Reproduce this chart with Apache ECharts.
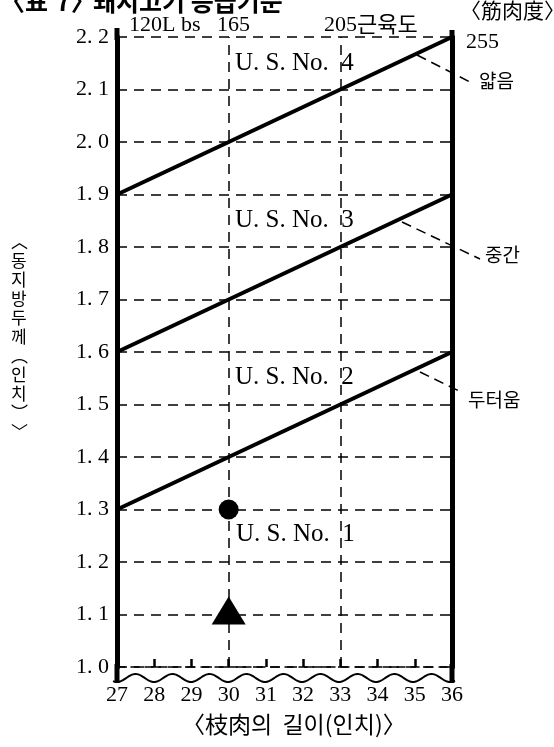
<!DOCTYPE html>
<html>
<head>
<meta charset="utf-8">
<script src="https://cdn.jsdelivr.net/npm/echarts@6/dist/echarts.min.js"></script>
<style>
  html, body { margin: 0; padding: 0; background: #fff; }
  #chart { width: 554px; height: 747px; }
</style>
</head>
<body>
<div id="chart"></div>
<script>
// 지육 길이(인치) 축
const lengthMin = 27;
const lengthMax = 36;
// 등지방 두께(인치) 축
const fatMin = 1.0;
const fatMax = 2.2;
// 등급 경계선: 27인치일 때와 36인치일 때의 두께
const boundaryNames = ['U. S. No. 4', 'U. S. No. 3', 'U. S. No. 2'];
const boundaryAt27 = [1.9, 1.6, 1.3];
const boundaryAt36 = [2.2, 1.9, 1.6];
// 세로 보조선
const guideLengths = [30, 33];
// 표본 점 (길이, 두께)
const circlePoint = [30, 1.3];
const trianglePoint = [30, 1.1];

const black = '#000';
const serif = '"Liberation Serif", "DejaVu Serif", serif';
const kr = '"Noto Sans CJK KR", sans-serif';

const chart = echarts.init(document.getElementById('chart'));

let seriesData = [];
// 세로 점선
seriesData.push({
  type: 'line',
  data: [],
  z: 1,
  markLine: {
    silent: true,
    symbol: 'none',
    label: { show: false },
    lineStyle: { color: black, width: 1.5, type: [10, 7] },
    data: guideLengths.map(v => ({ xAxis: v }))
  }
});
boundaryNames.forEach((name, i) => {
  seriesData.push({
    name: name,
    type: 'line',
    data: [[lengthMin, boundaryAt27[i]], [lengthMax, boundaryAt36[i]]],
    symbol: 'none',
    silent: true,
    lineStyle: { color: black, width: 4 },
    z: 5
  });
});
seriesData.push({
  type: 'scatter',
  data: [circlePoint],
  symbol: 'circle',
  symbolSize: 20,
  itemStyle: { color: black, opacity: 1 },
  z: 6
});
seriesData.push({
  type: 'scatter',
  data: [trianglePoint],
  symbol: 'triangle',
  symbolSize: [34, 28],
  symbolOffset: [0, -4],
  itemStyle: { color: black, opacity: 1 },
  z: 6
});

// 물결선 (장식)
let wave = [];
for (let x = 113; x <= 456; x += 2) {
  wave.push([x, 678 + 4 * Math.sin((x - 117) / 37 * 2 * Math.PI + Math.PI / 2)]);
}

const option = {
  animation: false,
  backgroundColor: '#fff',
  grid: { left: 117, right: 102, top: 37, bottom: 80 },
  xAxis: {
    type: 'value',
    min: lengthMin,
    max: lengthMax,
    interval: 1,
    axisLine: { onZero: false, lineStyle: { color: black, width: 1.5, type: [8, 6] } },
    axisTick: { inside: true, length: 8, lineStyle: { color: black, width: 2.5 } },
    splitLine: { show: false },
    axisLabel: { color: black, fontSize: 22, fontFamily: serif, margin: 17 }
  },
  yAxis: [{
    type: 'value',
    min: fatMin,
    max: fatMax,
    interval: 0.1,
    axisLine: { show: true, lineStyle: { color: black, width: 5 } },
    axisTick: { show: false },
    splitLine: { lineStyle: { color: black, width: 1.5, type: [10, 7] } },
    axisLabel: {
      color: black, fontSize: 22, fontFamily: serif, margin: 8,
      formatter: v => v.toFixed(1).replace('.', '. ')
    }
  }, {
    type: 'value',
    position: 'right',
    min: fatMin,
    max: fatMax,
    interval: 0.1,
    axisLine: { show: true, lineStyle: { color: black, width: 5 } },
    axisTick: { show: false },
    splitLine: { show: false },
    axisLabel: { show: false }
  }],
  graphic: [
    // 제목 (위쪽이 잘림)
    { type: 'text', left: 0, top: -11, style: { text: '〈표', font: 'bold 25px ' + kr, fill: black } },
    { type: 'text', left: 56, top: -11, style: { text: '7〉', font: 'bold 25px ' + kr, fill: black } },
    { type: 'text', left: 93, top: -11, style: { text: '돼지고기 등급기준', font: 'bold 25px ' + kr, fill: black } },
    // 위쪽 체중 눈금
    { type: 'text', left: 129, top: 14, style: { text: '120L bs', font: '22px ' + serif, fill: black } },
    { type: 'text', left: 217, top: 14, style: { text: '165', font: '22px ' + serif, fill: black } },
    { type: 'text', left: 324, top: 14, style: { text: '205', font: '22px ' + serif, fill: black } },
    { type: 'text', left: 357, top: 13, style: { text: '근육도', font: '22px ' + kr, fill: black } },
    { type: 'text', left: 460, top: 0, style: { text: '〈筋肉度〉', font: '21px ' + kr, fill: black } },
    { type: 'text', left: 466, top: 31, style: { text: '255', font: '22px ' + serif, fill: black } },
    // 등급 이름
    { type: 'text', left: 235, top: 51, style: { text: 'U. S. No.  4', font: '25px ' + serif, fill: black } },
    { type: 'text', left: 235, top: 208, style: { text: 'U. S. No.  3', font: '25px ' + serif, fill: black } },
    { type: 'text', left: 235, top: 365, style: { text: 'U. S. No.  2', font: '25px ' + serif, fill: black } },
    { type: 'text', left: 236, top: 522, style: { text: 'U. S. No.  1', font: '25px ' + serif, fill: black } },
    // 오른쪽 설명과 지시선
    { type: 'line', shape: { x1: 417, y1: 55, x2: 474, y2: 84 }, style: { stroke: black, lineWidth: 1.5, lineDash: [10, 6] } },
    { type: 'text', left: 479, top: 71, style: { text: '얇음', font: '19px ' + kr, fill: black } },
    { type: 'line', shape: { x1: 402, y1: 222, x2: 480, y2: 259 }, style: { stroke: black, lineWidth: 1.5, lineDash: [10, 6] } },
    { type: 'text', left: 485, top: 245, style: { text: '중간', font: '19px ' + kr, fill: black } },
    { type: 'line', shape: { x1: 420, y1: 372, x2: 463, y2: 393 }, style: { stroke: black, lineWidth: 1.5, lineDash: [10, 6] } },
    { type: 'text', left: 468, top: 390, style: { text: '두터움', font: '19px ' + kr, fill: black } },
    // 왼쪽 축 이름 (세로쓰기)
    {
      type: 'text', left: 11, top: 232,
      style: {
        text: '︿\n동\n지\n방\n두\n께\n︵\n인\n치\n︶\n﹀',
        font: '17px ' + kr, lineHeight: 19, fill: black, align: 'center'
      }
    },
    // 아래 축 이름
    { type: 'text', left: 182, top: 713, style: { text: '〈枝肉의  길이(인치)〉', font: '23px ' + kr, fill: black } },
    // 축 위·아래 연장과 물결선
    { type: 'line', shape: { x1: 117, y1: 28, x2: 117, y2: 40 }, style: { stroke: black, lineWidth: 5 } },
    { type: 'line', shape: { x1: 452, y1: 30, x2: 452, y2: 40 }, style: { stroke: black, lineWidth: 5 } },
    { type: 'line', shape: { x1: 117, y1: 664, x2: 117, y2: 683 }, style: { stroke: black, lineWidth: 5 } },
    { type: 'line', shape: { x1: 452, y1: 664, x2: 452, y2: 683 }, style: { stroke: black, lineWidth: 5 } },
    { type: 'polyline', shape: { points: wave, smooth: 0.3 }, style: { stroke: black, lineWidth: 2, fill: null } }
  ],
  series: seriesData
};

chart.setOption(option);
</script>
</body>
</html>
